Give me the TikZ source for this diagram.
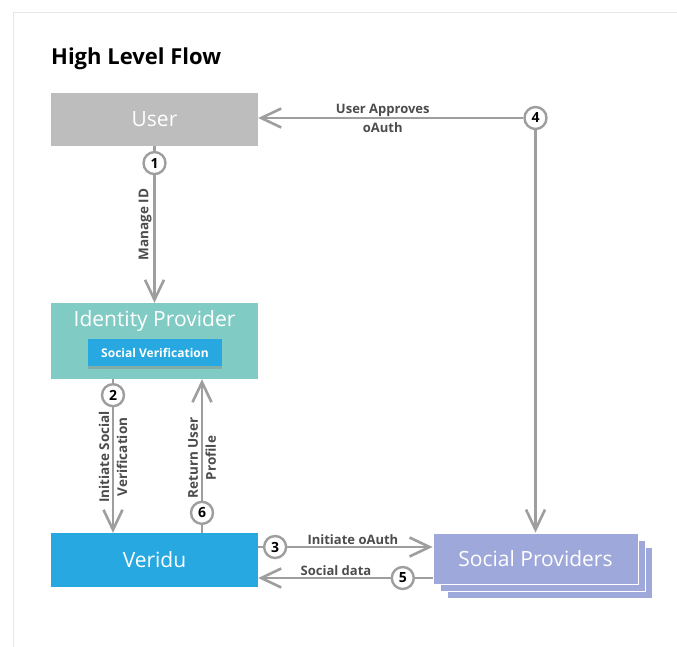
\documentclass[tikz,border=0pt]{standalone}
\usepackage{fontspec}
\setmainfont{Open Sans}
\usetikzlibrary{arrows.meta,positioning,shadows,calc}
\definecolor{usergray}{HTML}{BDBDBD}
\definecolor{idpteal}{HTML}{80CBC4}
\definecolor{veriblue}{HTML}{27A8E0}
\definecolor{socialviolet}{HTML}{9FA8DA}
\definecolor{flowgray}{HTML}{9E9E9E}
\definecolor{framegray}{HTML}{E6E6E6}
\tikzset{
    box/.style={rectangle,inner sep=0pt,minimum width=207pt,text=white,font=\fontsize{21}{24}\selectfont},
    subbox/.style={rectangle,inner sep=0pt,minimum width=134pt,minimum height=27pt,fill=veriblue,text=white,font=\bfseries\fontsize{12}{14}\selectfont,drop shadow={shadow xshift=0pt,shadow yshift=-2.5pt,opacity=0.4}},
    badge/.style={circle,draw=flowgray,line width=2.4pt,fill=white,inner sep=0pt,minimum size=22pt,font=\bfseries\fontsize{14}{14}\selectfont},
    flow label/.style={text=black!70,inner sep=1.5pt,align=center,font=\bfseries\fontsize{13}{19}\selectfont},
    side label/.style={flow label,rotate=90,font=\bfseries\fontsize{13.5}{18}\selectfont},
}
\begin{document}
\begin{tikzpicture}[x=1pt,y=-1pt,flow/.style={draw=flowgray,line width=2.6pt,-{Straight Barb[length=20pt,width=19pt]}}]
    \useasboundingbox (0,0) rectangle (677,647);
    \fill[white] (0,0) rectangle (677,647);
    \draw[framegray,line width=1pt] (13,647) -- (13,13) -- (677,13);
    \node[anchor=base west,inner sep=0pt,font=\bfseries\fontsize{22}{26}\selectfont] (title) at (51,65) {High Level Flow};

    % boxes
    \node[box,fill=usergray,minimum height=53pt] (user) at (154.5,119.5) {User};
    \node[box,fill=idpteal,minimum height=76pt] (idp) at (154.5,341) {};
    \node[box] (idptitle) [below=8pt of idp.north] {Identity Provider};
    \node[subbox] (socver) at (155,352.5) {Social Verification};
    \node[box,fill=veriblue,minimum height=54pt] (veridu) at (154.5,560) {Veridu};
    \node[box,fill=socialviolet,draw=white,line width=0.8pt,minimum width=205pt,minimum height=51pt,
        double copy shadow={shadow xshift=7pt,shadow yshift=-7pt}] (social) at (535.5,558.5) {Social Providers};
    \node[badge] (c4) at (535.5,118) {4};

    % flows
    \draw[flow] (user) -- node[badge,pos=0.108] (c1) {1}
        node[side label,above,pos=0.5] (managelbl) {Manage ID} (idp);
    \draw[flow] ([xshift=-41.5pt]idp.south) -- node[badge,pos=0.104] (c2) {2}
        node[side label,pos=0.506] (initlbl) {Initiate Social\\Verification} ([xshift=-41.5pt]veridu.north);
    \draw[flow] ([xshift=47.5pt]veridu.north) -- node[badge,pos=0.13] (c6) {6}
        node[side label,pos=0.487] (returnlbl) {Return User\\Profile} ([xshift=47.5pt]idp.south);
    \draw[flow] ([yshift=13pt]veridu.east) -- node[badge,pos=0.097] (c3) {3}
        node[flow label,above,pos=0.543] (oauthlbl) {Initiate oAuth} ([yshift=13pt]veridu.east -| social.west);
    \draw[flow] ([yshift=-18pt]veridu.east -| social.west) -- node[badge,pos=0.171] (c5) {5}
        node[flow label,above,pos=0.554] (datalbl) {Social data} ([yshift=-18pt]veridu.east);
    \draw[flow] (c4) -- node[flow label,pos=0.53] (approvelbl) {User Approves\\oAuth} (c4 -| user.east);
    \draw[flow] (c4) -- (c4 |- social.north);
\end{tikzpicture}
\end{document}
